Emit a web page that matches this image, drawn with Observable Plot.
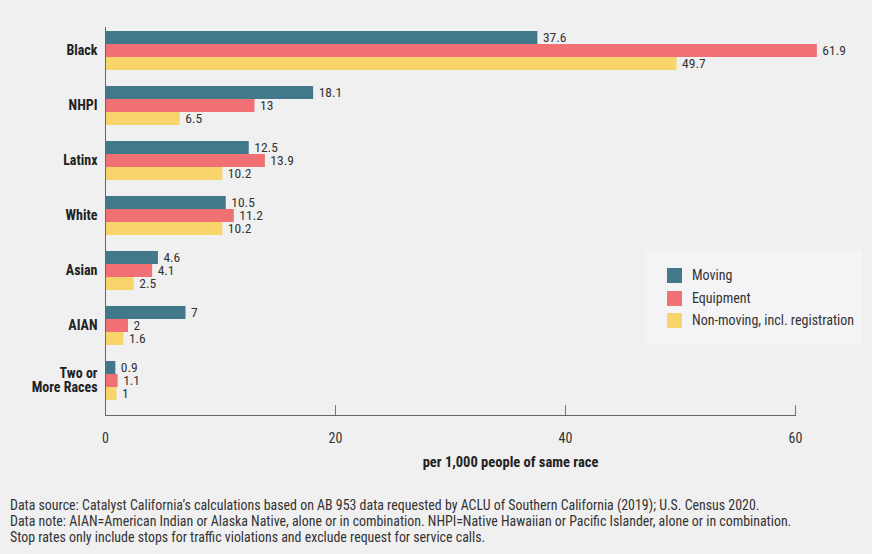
<!DOCTYPE html>
<html>
<head>
<meta charset="utf-8">
<script src="https://cdn.jsdelivr.net/npm/d3@7"></script>
<script src="https://cdn.jsdelivr.net/npm/@observablehq/plot@0.6"></script>
<style>
  html, body { margin: 0; padding: 0; background: #f0f0f0; }
  body { width: 872px; height: 554px; position: relative; overflow: hidden;
         font-family: "Liberation Sans Narrow", "Roboto Condensed", "DejaVu Sans Condensed", Roboto, sans-serif; }
  #chart { position: absolute; left: 0; top: 0; }
  #legend { position: absolute; left: 645px; top: 250px; width: 217px; height: 95px; background: #f4f4f6; }
  .item { position: absolute; left: 22px; height: 16px; font-size: 14px; color: #333; line-height: 16px; }
  .sw { position: absolute; left: 0; top: 0; width: 15px; height: 15px; }
  .lab { position: absolute; left: 25px; top: -1px; white-space: nowrap; }
  #caption { position: absolute; left: 10px; top: 497px; font-size: 13.9px; line-height: 16px; color: #333; white-space: nowrap; }
</style>
</head>
<body>
<div id="chart"></div>
<div id="legend"></div>
<div id="caption"></div>
<script>
const races = ["Black", "NHPI", "Latinx", "White", "Asian", "AIAN", "Two or More Races"];
const raceLabels = ["Black", "NHPI", "Latinx", "White", "Asian", "AIAN", "Two or\nMore Races"];
const moving = [37.6, 18.1, 12.5, 10.5, 4.6, 7, 0.9];
const equipment = [61.9, 13, 13.9, 11.2, 4.1, 2, 1.1];
const nonMoving = [49.7, 6.5, 10.2, 10.2, 2.5, 1.6, 1];
const seriesNames = ["Moving", "Equipment", "Non-moving, incl. registration"];
const seriesColors = ["#41788a", "#f07073", "#f7d56a"];
const xTicks = [0, 20, 40, 60];
const axisTitle = "per 1,000 people of same race";
const captionLines = [
  "Data source: Catalyst California’s calculations based on AB 953 data requested by ACLU of Southern California (2019); U.S. Census 2020.",
  "Data note: AIAN=American Indian or Alaska Native, alone or in combination. NHPI=Native Hawaiian or Pacific Islander, alone or in combination.",
  "Stop rates only include stops for traffic violations and exclude request for service calls."
];

const seriesValues = [moving, equipment, nonMoving];
const tables = seriesValues.map((vals) => races.map((r, i) => ({race: r, value: vals[i]})));

const font = '"Liberation Sans Narrow", "Roboto Condensed", "DejaVu Sans Condensed", Roboto, sans-serif';
const barH = 13;
const marks = [];
tables.forEach((t, k) => {
  marks.push(Plot.barX(t, {
    x: "value", y: "race", fill: seriesColors[k],
    insetTop: k * barH, insetBottom: (2 - k) * barH
  }));
  marks.push(Plot.text(t, {
    x: "value", y: "race", text: (d) => String(d.value),
    dx: 5, dy: (k - 1) * barH, textAnchor: "start", fill: "#333", fontSize: 13.5
  }));
});

const plot = Plot.plot({
  width: 872,
  height: 480,
  marginLeft: 105,
  marginRight: 77,
  marginTop: 27,
  marginBottom: 65,
  style: {background: "transparent", fontFamily: font, color: "#333"},
  x: {domain: [0, 60], ticks: xTicks},
  y: {domain: races, paddingInner: 0.3, paddingOuter: 0.13, align: 0.2},
  marks: [
    Plot.axisY({tickSize: 0, tickPadding: 8, fontSize: 14, fontWeight: "bold", fill: "#222",
      tickFormat: (d) => raceLabels[races.indexOf(d)], label: null}),
    Plot.axisX({ticks: xTicks, tickSize: 0, tickPadding: 18, fontSize: 14, fill: "#333", label: null}),
    Plot.tickX(xTicks, {x: (d) => d, stroke: "#777", insetTop: 378}),
    ...marks,
    Plot.ruleX([0], {stroke: "#666"}),
    Plot.frame({anchor: "bottom", stroke: "#666"}),
    Plot.text([axisTitle], {frameAnchor: "bottom", dx: 60, dy: 51, fontWeight: "bold", fontSize: 14.5, fill: "#222"})
  ]
});
document.getElementById("chart").appendChild(plot);

const legend = document.getElementById("legend");
seriesNames.forEach((n, k) => {
  const it = document.createElement("div");
  it.className = "item";
  it.style.top = (18 + k * 22.5) + "px";
  it.innerHTML = `<div class="sw" style="background:${seriesColors[k]}"></div><div class="lab">${n}</div>`;
  legend.appendChild(it);
});

document.getElementById("caption").innerHTML = captionLines.join("<br>");
</script>
</body>
</html>
